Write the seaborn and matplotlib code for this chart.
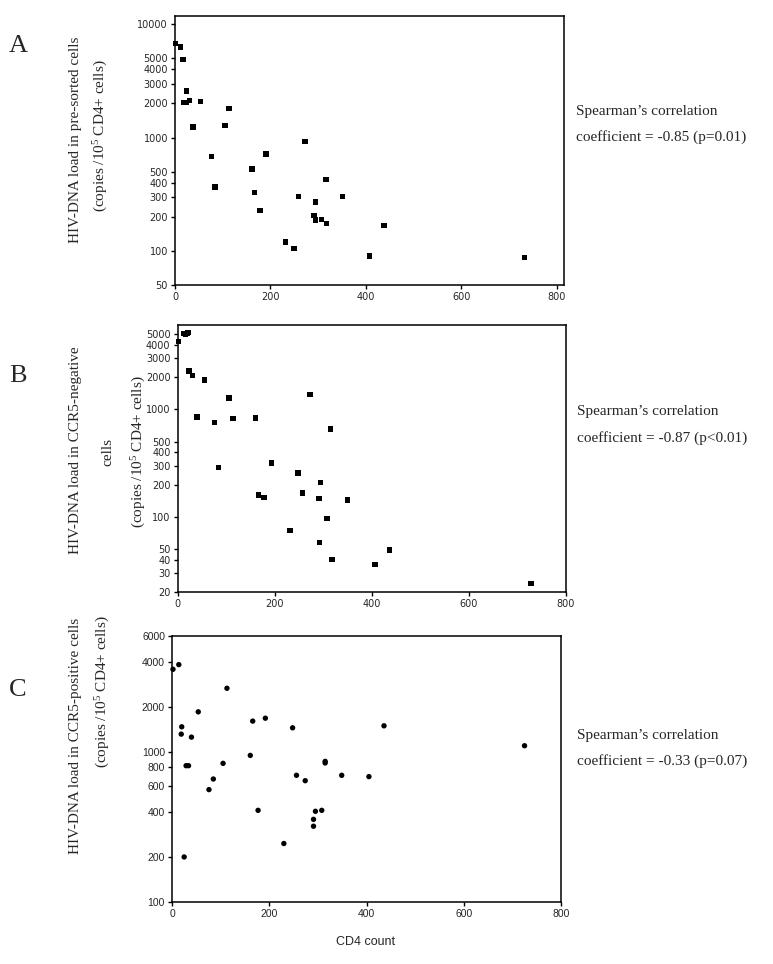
import numpy as np
import pandas as pd
import matplotlib
matplotlib.use('Agg')
import matplotlib.pyplot as plt
import matplotlib.ticker as mticker
import seaborn as sns

sns.set_style('white')
plt.rcParams['mathtext.fontset'] = 'custom'
plt.rcParams['mathtext.rm'] = 'Liberation Serif'
plt.rcParams['mathtext.it'] = 'Liberation Serif'

#%% data (CD4 count vs HIV-DNA copies)
a_cd4 = [1, 12, 17, 24, 19, 23, 31, 54, 38, 113, 105, 76, 84, 191, 272, 161, 166, 178,
         259, 295, 316, 351, 291, 294, 307, 317, 232, 249, 407, 438, 732]
a_dna = [6730, 6300, 4880, 2580, 2040, 2050, 2120, 2080, 1240, 1815, 1273, 682, 366, 715,
         929, 528, 326, 227, 301, 270, 427, 301, 205, 188, 189, 175, 120, 105, 90, 168, 87]

b_cd4 = [2, 13, 16, 20, 23, 24, 31, 55, 106, 40, 76, 114, 161, 273, 315, 85, 193, 167,
         178, 248, 257, 295, 291, 350, 308, 232, 292, 318, 407, 437, 728]
b_dna = [4300, 5100, 5050, 5150, 5200, 2275, 2060, 1875, 1276, 850, 751, 818, 830, 1370,
         656, 288, 316, 160, 152, 257, 167, 209, 148, 144, 96, 75, 58, 40, 36, 49, 24]

c_cd4 = [2, 14, 113, 54, 20, 19, 40, 29, 34, 25, 105, 85, 76, 161, 166, 192, 177, 248,
         256, 274, 230, 315, 315, 349, 405, 436, 295, 308, 291, 291, 725]
c_dna = [3594, 3861, 2684, 1867, 1483, 1325, 1265, 815, 815, 200, 845, 664, 564, 955,
         1619, 1693, 410, 1460, 703, 647, 246, 871, 850, 703, 689, 1506, 404, 410, 357,
         321, 1108]

panels = ['A', 'B', 'C']
spearman = ["coefficient = -0.85 (p=0.01)",
            "coefficient = -0.87 (p<0.01)",
            "coefficient = -0.33 (p=0.07)"]
ylab1 = ['HIV-DNA load in pre-sorted cells',
         'HIV-DNA load in CCR5-negative',
         'HIV-DNA load in CCR5-positive cells']
ylab2 = '(copies /10$^{5}$ CD4+ cells)'

a_yticks = [50, 100, 200, 300, 400, 500, 1000, 2000, 3000, 4000, 5000, 10000]
b_yticks = [20, 30, 40, 50, 100, 200, 300, 400, 500, 1000, 2000, 3000, 4000, 5000]
c_yticks = [100, 200, 400, 600, 800, 1000, 2000, 4000, 6000]
xticks = [0, 200, 400, 600, 800]

df_a = pd.DataFrame({'cd4': a_cd4, 'dna': a_dna})
df_b = pd.DataFrame({'cd4': b_cd4, 'dna': b_dna})
df_c = pd.DataFrame({'cd4': c_cd4, 'dna': c_dna})

#%% figure
fig = plt.figure(figsize=(7.73, 9.64), dpi=100)
W, H = 773., 964.

def box(l, t, r, b):
    return [l / W, 1 - b / H, (r - l) / W, (b - t) / H]

ax_a = fig.add_axes(box(175, 16, 564, 285))
ax_b = fig.add_axes(box(177.5, 325, 566, 592))
ax_c = fig.add_axes(box(172, 636, 561, 902))

setup = [(ax_a, df_a, a_yticks, (50, 11830), (0, 815), 's', 'DejaVu Sans', 7),
         (ax_b, df_b, b_yticks, (20, 6100), (0, 800), 's', 'DejaVu Sans', 7),
         (ax_c, df_c, c_yticks, (100, 6000), (0, 800), 'o', 'Liberation Sans', 7.5)]

for ax, d, yt, ylim, xlim, mk, tfont, tsize in setup:
    sns.scatterplot(data=d, x='cd4', y='dna', ax=ax, color='black', marker=mk,
                    s=15, edgecolor='none', clip_on=False, legend=False)
    ax.set_yscale('log')
    ax.set_ylim(*ylim)
    ax.set_xlim(*xlim)
    ax.yaxis.set_major_locator(mticker.FixedLocator(yt))
    ax.yaxis.set_minor_locator(mticker.NullLocator())
    ax.yaxis.set_major_formatter(mticker.FixedFormatter([str(v) for v in yt]))
    ax.set_xticks(xticks)
    ax.set_xticklabels([str(v) for v in xticks])
    ax.set_xlabel('')
    ax.set_ylabel('')
    ax.tick_params(axis='both', direction='out', length=3, width=1, color='black',
                   labelsize=tsize, pad=2, left=True, bottom=True)
    for lab in ax.get_xticklabels() + ax.get_yticklabels():
        lab.set_family(tfont)
    for sp in ax.spines.values():
        sp.set_visible(True)
        sp.set_color('black')
        sp.set_linewidth(1.1)

serif = 'Liberation Serif'
# panel letters
for lab, y in zip(panels, [46, 376, 690]):
    fig.text(18 / W, 1 - y / H, lab, family=serif, fontsize=19, ha='center', va='center')

# y labels
fig.text(76 / W, 1 - 140 / H, ylab1[0], family=serif, fontsize=11, rotation=90, ha='center', va='center')
fig.text(101 / W, 1 - 136 / H, ylab2, family=serif, fontsize=11, rotation=90, ha='center', va='center')
fig.text(76 / W, 1 - 450 / H, ylab1[1], family=serif, fontsize=11, rotation=90, ha='center', va='center')
fig.text(108 / W, 1 - 452 / H, 'cells', family=serif, fontsize=11, rotation=90, ha='center', va='center')
fig.text(139 / W, 1 - 452 / H, ylab2, family=serif, fontsize=11, rotation=90, ha='center', va='center')
fig.text(76 / W, 1 - 736 / H, ylab1[2], family=serif, fontsize=11, rotation=90, ha='center', va='center')
fig.text(103 / W, 1 - 692 / H, ylab2, family=serif, fontsize=11, rotation=90, ha='center', va='center')

# spearman text
for txt, y, x in zip(spearman, [111, 412, 735], [576, 577, 577]):
    fig.text(x / W, 1 - y / H, "Spearman\u2019s correlation", family=serif, fontsize=11, va='center')
    fig.text(x / W, 1 - (y + 26) / H, txt, family=serif, fontsize=11, va='center')

fig.text(366 / W, 1 - 942 / H, 'CD4 count', family='Liberation Sans', fontsize=9, ha='center', va='center')

fig.savefig('out.png', dpi=100)
